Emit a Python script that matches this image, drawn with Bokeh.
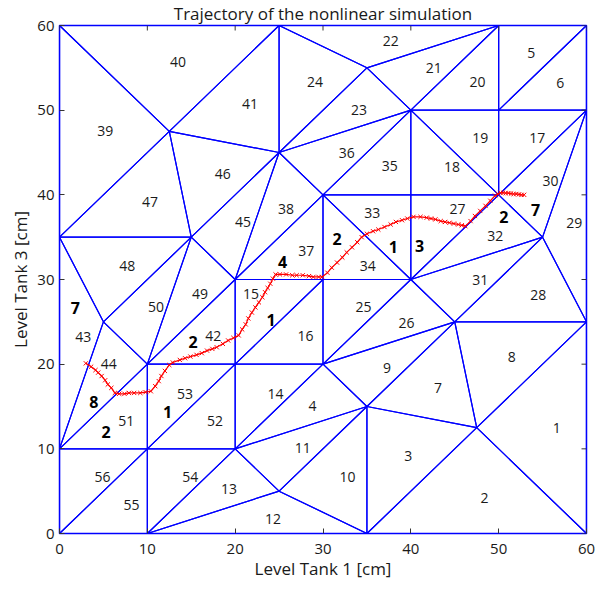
import math
from bokeh.plotting import figure
from bokeh.models import Range1d, ColumnDataSource, FixedTicker
from bokeh.embed import file_html
from bokeh.resources import INLINE
from bokeh.core.properties import value

# Grid vertices (Level Tank 1, Level Tank 3) in cm
vert_x = [0, 10, 35, 60, 0, 10, 20, 25, 35, 47.5, 60, 45, 30, 20, 10, 5, 0, 15,
          20, 30, 40, 55, 60, 50, 40, 30, 25, 12.5, 0, 25, 35, 40, 50, 50, 60]
vert_y = [0, 0, 0, 0, 10, 10, 10, 5, 15, 12.5, 25, 25, 20, 20, 20, 25, 35, 35,
          30, 30, 30, 35, 50, 40, 40, 40, 45, 47.5, 60, 60, 55, 50, 50, 60, 60]

# Triangles (vertex indices), region numbers 1..56
tri_vertices = [
    (3, 10, 9), (2, 3, 9), (2, 9, 8), (6, 12, 8), (33, 34, 32), (34, 22, 32),
    (8, 9, 11), (9, 10, 11), (12, 8, 11), (7, 2, 8), (6, 7, 8), (1, 2, 7),
    (1, 7, 6), (6, 12, 13), (13, 19, 18), (13, 12, 19), (32, 22, 23), (31, 23, 24),
    (31, 32, 23), (31, 33, 32), (30, 33, 31), (29, 33, 30), (26, 30, 31), (29, 26, 30),
    (12, 20, 19), (12, 11, 20), (24, 23, 20), (21, 10, 11), (22, 21, 10), (22, 23, 21),
    (20, 21, 11), (20, 23, 21), (25, 24, 20), (19, 20, 25), (25, 31, 24), (26, 25, 31),
    (18, 19, 25), (26, 18, 25), (16, 27, 28), (28, 29, 27), (29, 27, 26), (14, 13, 18),
    (4, 15, 16), (4, 14, 15), (17, 26, 18), (27, 26, 17), (16, 17, 27), (16, 15, 17),
    (14, 18, 17), (14, 17, 15), (4, 5, 14), (5, 6, 13), (5, 13, 14), (1, 6, 5),
    (0, 1, 5), (0, 5, 4),
]

region_label_x = [56.6, 48.4, 39.7, 28.8, 53.7, 57.0, 43.1, 51.5, 37.3, 32.8,
                  27.7, 24.3, 19.3, 24.6, 21.8, 28.0, 54.4, 44.7, 47.9, 47.6,
                  42.6, 37.7, 34.1, 29.1, 34.6, 39.5, 45.3, 54.5, 58.6, 55.9,
                  47.9, 49.6, 35.6, 35.1, 37.6, 32.7, 28.1, 25.8, 5.2, 13.5,
                  21.7, 17.5, 2.7, 5.6, 20.9, 18.6, 10.3, 7.7, 16.0, 11.0,
                  7.6, 17.7, 14.3, 14.9, 8.2, 4.9]
region_label_y = [12.5, 4.2, 9.1, 15.1, 56.7, 53.2, 17.2, 20.8, 19.5, 6.7,
                  10.1, 1.7, 5.2, 16.5, 28.3, 23.3, 46.7, 43.3, 46.7, 53.3,
                  55.0, 58.2, 50.0, 53.3, 26.8, 24.9, 38.3, 28.2, 36.7, 41.6,
                  29.9, 35.1, 37.8, 31.6, 43.4, 44.9, 33.4, 38.3, 47.5, 55.7,
                  50.7, 23.3, 23.2, 20.0, 36.8, 42.5, 39.1, 31.6, 28.3, 26.8,
                  13.3, 13.3, 16.5, 6.7, 3.4, 6.7]

# Operating-mode numbers along the trajectory
mode_text = ["7", "8", "2", "1", "2", "1", "4", "2", "1", "3", "2", "7"]
mode_x = [1.8, 3.9, 5.3, 12.3, 15.2, 24.1, 25.4, 31.6, 38.0, 41.0, 50.6, 54.2]
mode_y = [26.6, 15.5, 12.0, 14.3, 22.6, 25.2, 32.1, 34.8, 33.8, 34.0, 37.4, 38.2]

# Trajectory of the nonlinear simulation
traj_x = [3.0, 3.6, 4.1, 4.4, 4.8, 5.2, 5.5, 5.9, 6.3, 6.8, 7.4, 7.9, 8.5, 9.2, 9.8,
          10.4, 10.9, 11.3, 11.6, 12.0, 12.5, 12.9, 13.7, 14.3, 14.9, 15.6, 16.2,
          16.8, 17.4, 17.9, 18.6, 19.2, 19.8, 20.4, 20.8, 21.2, 21.5, 21.9, 22.3,
          22.7, 23.1, 23.4, 23.7, 24.0, 24.3, 24.6, 25.1, 25.8, 26.5, 27.0, 27.7,
          28.4, 28.9, 29.5, 29.9, 30.5, 31.0, 31.6, 32.2, 32.7, 33.3, 33.9, 34.4,
          35.0, 35.7, 36.3, 37.0, 37.7, 38.3, 39.0, 39.6, 40.3, 41.1, 41.8, 42.3,
          42.8, 43.4, 43.9, 44.4, 44.9, 45.4, 45.8, 46.2, 46.8, 47.3, 47.9, 48.5,
          49.05, 49.6, 49.9, 50.2, 50.5, 50.8, 51.1, 51.4, 51.7, 52.0, 52.3, 52.6, 52.9]
traj_y = [20.1, 19.7, 19.3, 19.0, 18.6, 18.1, 17.6, 17.2, 16.6, 16.5, 16.5, 16.6,
          16.6, 16.6, 16.7, 16.8, 17.4, 18.0, 18.6, 19.2, 19.9, 20.2, 20.5, 20.7,
          20.9, 21.1, 21.3, 21.6, 21.8, 22.0, 22.4, 22.8, 23.1, 23.4, 24.1, 24.7,
          25.4, 26.1, 26.7, 27.3, 27.9, 28.5, 29.0, 29.5, 30.1, 30.6, 30.6, 30.6,
          30.5, 30.5, 30.5, 30.4, 30.3, 30.3, 30.3, 30.8, 31.4, 32.0, 32.6, 33.2,
          33.8, 34.4, 35.0, 35.4, 35.7, 35.9, 36.2, 36.5, 36.8, 37.0, 37.2, 37.4,
          37.4, 37.3, 37.2, 37.1, 36.9, 36.8, 36.7, 36.6, 36.5, 36.4, 36.3, 36.9,
          37.5, 38.1, 38.7, 39.3, 39.9, 40.1, 40.25, 40.25, 40.2, 40.2, 40.15,
          40.1, 40.1, 40.05, 40.0, 40.0]

ticks = [0, 10, 20, 30, 40, 50, 60]
x_min, x_max = 0, 60
y_min, y_max = 0, 60

FONT = "Open Sans"
BLUE = "#0000ff"
RED = "#ff0000"
TXT = "#1a1a1a"
TICK = "#333333"

p = figure(width=606, height=586, x_range=Range1d(x_min, x_max), y_range=Range1d(y_min, y_max),
           output_backend="svg", toolbar_location=None,
           title="Trajectory of the nonlinear simulation",
           min_border_left=59, min_border_right=20, min_border_top=25, min_border_bottom=53)
p.title.text_font = FONT
p.title.text_font_size = "17px"
p.title.text_font_style = "normal"
p.title.text_color = TXT
p.title.align = "center"
p.title.vertical_align = "top"
p.title.standoff = -2
p.xgrid.visible = False
p.ygrid.visible = False
p.background_fill_color = "white"
p.border_fill_color = "white"
p.outline_line_color = BLUE
p.outline_line_width = 1.5

for ax in (p.xaxis[0], p.yaxis[0]):
    ax.ticker = FixedTicker(ticks=ticks)
    ax.axis_line_color = None
    ax.major_tick_in = 5
    ax.major_tick_out = 0
    ax.major_tick_line_color = TICK
    ax.minor_tick_line_color = None
    ax.major_label_text_font = FONT
    ax.major_label_text_font_size = "15px"
    ax.major_label_text_color = TXT
    ax.axis_label_text_font = FONT
    ax.axis_label_text_font_size = "17px"
    ax.axis_label_text_font_style = "normal"
    ax.axis_label_text_color = TXT
p.xaxis[0].major_label_standoff = 10
p.yaxis[0].major_label_standoff = 5
p.xaxis[0].axis_label = "Level Tank 1 [cm]"
p.yaxis[0].axis_label = "Level Tank 3 [cm]"
p.xaxis[0].axis_label_standoff = 0
p.yaxis[0].axis_label_standoff = 2

# triangulation of the state space
xs = [[vert_x[i] for i in t] for t in tri_vertices]
ys = [[vert_y[i] for i in t] for t in tri_vertices]
p.patches(xs, ys, fill_color=None, line_color=BLUE, line_width=1.2)

# inward tick marks on the top and right edges of the box
p.ray(x=ticks, y=[y_max] * len(ticks), length=5, length_units="screen",
      angle=-math.pi / 2, line_color=TICK, line_width=1)
p.ray(x=[x_max] * len(ticks), y=ticks, length=5, length_units="screen",
      angle=math.pi, line_color=TICK, line_width=1)

# trajectory
p.line(traj_x, traj_y, line_color=RED, line_width=1.2)
p.scatter(traj_x, traj_y, marker="x", size=6, line_color=RED, line_width=1)

reg_src = ColumnDataSource(dict(x=region_label_x, y=region_label_y,
                                t=[str(i + 1) for i in range(len(region_label_x))]))
p.text(x="x", y="y", text="t", source=reg_src, text_font=value(FONT),
       text_font_size="14px", text_align="center", text_baseline="middle", text_color=TXT)

mode_src = ColumnDataSource(dict(x=mode_x, y=mode_y, t=mode_text))
p.text(x="x", y="y", text="t", source=mode_src, text_font=value(FONT),
       text_font_size="16px", text_font_style="bold", text_align="center",
       text_baseline="middle", text_color="#000000")

open("out.html", "w").write(file_html(p, INLINE))
